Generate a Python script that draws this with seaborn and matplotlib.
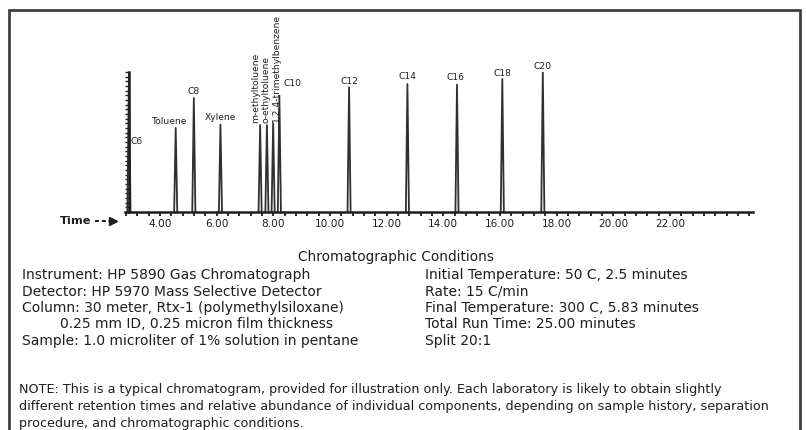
import numpy as np
import pandas as pd
import matplotlib
matplotlib.use("Agg")
import matplotlib.pyplot as plt
import seaborn as sns
from matplotlib.lines import Line2D

# ---------------- data ----------------
compounds = ["C6", "Toluene", "C8", "Xylene", "m-ethyltoluene", "o-ethyltoluene",
             "1,2,4-trimethylbenzene", "C10", "C12", "C14", "C16", "C18", "C20"]
retention_min = [2.90, 4.55, 5.19, 6.13, 7.53, 7.77, 7.99, 8.21, 10.67, 12.73, 14.48, 16.08, 17.51]
abundance = [100.0, 60.0, 81.4, 62.4, 62.1, 62.1, 63.3, 83.1, 89.0, 91.4, 91.0, 95.0, 100.0]
xtick_values = [4, 6, 8, 10, 12, 14, 16, 18, 20, 22]
xtick_labels = ["4.00", "6.00", "8.00", "10.00", "12.00", "14.00", "16.00", "18.00", "20.00", "22.00"]

# label placement style (offsets in pixels, rotation)
label_style = {
    "C6":                     dict(dx=2,  dy=-69, ha="left",   va="center", rot=0),
    "Toluene":                dict(dx=-6, dy=3,   ha="center", va="bottom", rot=0),
    "C8":                     dict(dx=0,  dy=3,   ha="center", va="bottom", rot=0),
    "Xylene":                 dict(dx=0,  dy=4,   ha="center", va="bottom", rot=0),
    "m-ethyltoluene":         dict(dx=-4, dy=3,   ha="center", va="bottom", rot=90),
    "o-ethyltoluene":         dict(dx=-1, dy=3,   ha="center", va="bottom", rot=90),
    "1,2,4-trimethylbenzene": dict(dx=3,  dy=2,   ha="center", va="bottom", rot=90),
    "C10":                    dict(dx=4,  dy=13,  ha="left",   va="center", rot=0),
    "C12":                    dict(dx=0,  dy=2,   ha="center", va="bottom", rot=0),
    "C14":                    dict(dx=0,  dy=4,   ha="center", va="bottom", rot=0),
    "C16":                    dict(dx=-1, dy=4,   ha="center", va="bottom", rot=0),
    "C18":                    dict(dx=0,  dy=2,   ha="center", va="bottom", rot=0),
    "C20":                    dict(dx=0,  dy=2,   ha="center", va="bottom", rot=0),
}

left_conditions = ["Instrument: HP 5890 Gas Chromatograph",
                   "Detector: HP 5970 Mass Selective Detector",
                   "Column: 30 meter, Rtx-1 (polymethylsiloxane)",
                   "        0.25 mm ID, 0.25 micron film thickness",
                   "Sample: 1.0 microliter of 1% solution in pentane"]
right_conditions = ["Initial Temperature: 50 C, 2.5 minutes",
                    "Rate: 15 C/min",
                    "Final Temperature: 300 C, 5.83 minutes",
                    "Total Run Time: 25.00 minutes",
                    "Split 20:1"]
note_lines = ["NOTE: This is a typical chromatogram, provided for illustration only. Each laboratory is likely to obtain slightly",
              "different retention times and relative abundance of individual components, depending on sample history, separation",
              "procedure, and chromatographic conditions."]

# ---------------- figure ----------------
W, H = 806, 431
sns.set_theme(style="white")
plt.rcParams["font.family"] = ["DejaVu Sans"]
INK = "#1e1e1e"
LINE = "#303030"

fig = plt.figure(figsize=(W / 100, H / 100), dpi=100)
fig.patch.set_facecolor("white")

def fx(px):
    return px / W

def fy(py):
    return 1 - py / H

ax = fig.add_axes([fx(125), fy(213), (753 - 125) / W, 140 / H])
ax.set_facecolor("white")

# build triangular peaks from the data
half_width = 0.055
rows = []
for name, t, h in zip(compounds, retention_min, abundance):
    for k, (xx, yy) in enumerate([(t - half_width, 0.0), (t, h), (t + half_width, 0.0)]):
        rows.append({"peak": name, "order": k, "t": xx, "h": yy})
df = pd.DataFrame(rows)
sns.lineplot(data=df, x="t", y="h", units="peak", estimator=None, sort=False,
             color=LINE, linewidth=1.3, ax=ax, legend=False)

ax.set_xlim(2.76, 24.93)
ax.set_ylim(0, 100)
ax.set_xlabel("")
ax.set_ylabel("")

for s in ["top", "right"]:
    ax.spines[s].set_visible(False)
ax.spines["left"].set_position(("data", 2.90))
for s in ["left", "bottom"]:
    ax.spines[s].set_color(INK)
    ax.spines[s].set_linewidth(1.8)

ax.set_xticks(xtick_values)
ax.set_xticklabels(xtick_labels, fontsize=7.6, color=INK)
ax.set_xticks(np.arange(2.8, 24.85, 0.4), minor=True)
ax.tick_params(axis="x", which="both", direction="out", length=3, width=1.3,
               color=INK, pad=1.5, bottom=True)
ax.set_yticks(np.linspace(0, 100, 31))
ax.set_yticklabels([])
ax.tick_params(axis="y", which="both", direction="out", length=3, width=1.0,
               color=INK, left=True)

# peak labels
for name, t, h in zip(compounds, retention_min, abundance):
    st = label_style[name]
    y_anchor = h if name != "C6" else 100
    ax.annotate(name, xy=(t, y_anchor), xytext=(st["dx"] * 0.72, st["dy"] * 0.72),
                textcoords="offset points", ha=st["ha"], va=st["va"],
                rotation=st["rot"], fontsize=6.6, color=INK,
                rotation_mode="anchor" if st["rot"] == 0 else "default")

# "Time -->" label
fig.text(fx(60), fy(221.5), "Time", fontsize=8.2, fontweight="bold", color=INK,
         ha="left", va="center")
fig.add_artist(Line2D([fx(95), fx(110)], [fy(221.5), fy(221.5)], color=INK,
                      linewidth=1.4, linestyle=(0, (2, 1.5))))
fig.add_artist(Line2D([fx(113)], [fy(221.5)], marker=">", markersize=6,
                      color=INK, linestyle="none"))

# conditions text
TFS = 10.0
NFS = 9.2
fig.text(fx(396), fy(257), "Chromatographic Conditions", fontsize=9.8, color=INK,
         ha="center", va="center")
ys = [275, 291.5, 308, 324.5, 341]
for i, line in enumerate(left_conditions):
    x0 = 22
    txt = line
    if line.startswith("        "):
        x0 = 60
        txt = line.strip()
    fig.text(fx(x0), fy(ys[i]), txt, fontsize=TFS, color=INK, ha="left", va="center")
for i, line in enumerate(right_conditions):
    fig.text(fx(425), fy(ys[i]), line, fontsize=TFS, color=INK, ha="left", va="center")
for i, line in enumerate(note_lines):
    fig.text(fx(19), fy(390 + 17 * i), line, fontsize=NFS, color=INK, ha="left", va="center")

# outer frame
fig.add_artist(Line2D([fx(9), fx(800)], [fy(11), fy(11)], color="#404040", linewidth=2.0))
fig.add_artist(Line2D([fx(9), fx(9)], [fy(11), fy(431)], color="#404040", linewidth=2.0))
fig.add_artist(Line2D([fx(800), fx(800)], [fy(11), fy(431)], color="#404040", linewidth=2.0))

fig.savefig("out.png", dpi=100)
